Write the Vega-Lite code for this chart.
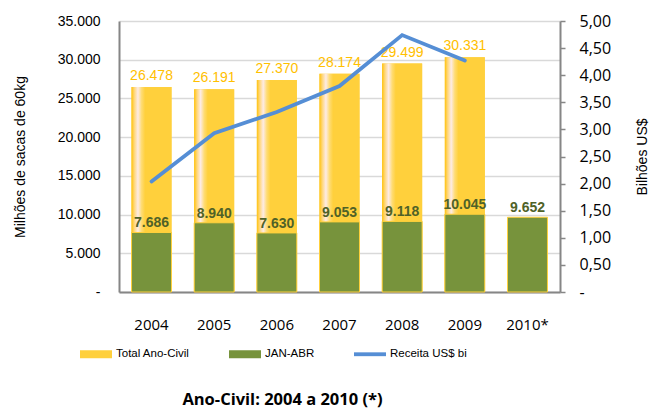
{
  "$schema": "https://vega.github.io/schema/vega-lite/v6.json",
  "width": 441,
  "height": 271,
  "autosize": "none",
  "padding": {"left": 119, "top": 21, "right": 97, "bottom": 124},
  "background": "white",
  "config": {
    "locale": {"number": {"decimal": ",", "thousands": ".", "grouping": [3], "currency": ["R$", ""]}},
    "view": {"stroke": null},
    "font": "Liberation Sans",
    "axisLeft": {
      "labelOverlap": false,
      "labelFont": "Liberation Sans",
      "labelFontSize": 14,
      "labelColor": "#000000",
      "labelPadding": 19,
      "ticks": false,
      "domainColor": "#868686",
      "domainWidth": 2,
      "grid": true,
      "gridColor": "#D9D9D9",
      "gridWidth": 1.5,
      "titleFont": "Liberation Sans",
      "titleFontSize": 14,
      "titleFontWeight": "normal",
      "titleColor": "#000000",
      "titlePadding": 30
    }
  },
  "title": {
    "text": "Ano-Civil: 2004 a 2010 (*)",
    "orient": "bottom",
    "anchor": "middle",
    "dx": -57,
    "font": "Open Sans",
    "fontSize": 16.5,
    "fontWeight": "bold",
    "color": "#000000",
    "offset": 32
  },
  "data": {
    "values": [
      {"ano": "2004", "total": 26478, "janabr": 7686, "receita": 2.04},
      {"ano": "2005", "total": 26191, "janabr": 8940, "receita": 2.93},
      {"ano": "2006", "total": 27370, "janabr": 7630, "receita": 3.32},
      {"ano": "2007", "total": 28174, "janabr": 9053, "receita": 3.8},
      {"ano": "2008", "total": 29499, "janabr": 9118, "receita": 4.74},
      {"ano": "2009", "total": 30331, "janabr": 10045, "receita": 4.27},
      {"ano": "2010*", "total": null, "janabr": 9652, "receita": null}
    ]
  },
  "encoding": {
    "x": {
      "field": "ano",
      "type": "ordinal",
      "sort": null,
      "scale": {"paddingInner": 0.362, "paddingOuter": 0.2},
      "axis": {
        "title": null,
        "labelAngle": 0,
        "labelFont": "Open Sans",
        "labelFontSize": 15,
        "labelColor": "#000000",
        "labelPadding": 25,
        "ticks": false,
        "domainColor": "#868686",
        "domainWidth": 2
      }
    }
  },
  "layer": [
    {
      "layer": [
        {
          "mark": {"type": "bar"},
          "encoding": {
            "y": {
              "field": "total",
              "type": "quantitative",
              "scale": {"domain": [0, 35000], "nice": false},
              "axis": {
                "title": "Milhões de sacas de 60kg",
                "values": [0, 5000, 10000, 15000, 20000, 25000, 30000, 35000],
                "format": ",d",
                "labelExpr": "datum.value === 0 ? '-' : datum.label"
              }
            },
            "color": {
              "datum": "Total Ano-Civil",
              "scale": {
                "domain": ["Total Ano-Civil", "JAN-ABR", "Receita US$ bi"],
                "range": ["#FFD03C", "#77933C", "#558ED5"]
              },
              "legend": {
                "orient": "none",
                "legendX": -39,
                "legendY": 317,
                "direction": "horizontal",
                "title": null,
                "symbolType": "M-1,-0.25H1V0.25H-1Z",
                "symbolSize": 1024,
                "symbolStrokeWidth": 0,
                "labelFont": "Liberation Sans",
                "labelFontSize": 11.5,
                "labelColor": "#000000",
                "labelOffset": 4,
                "columnPadding": 39,
                "labelLimit": 200,
                "encode": {
                  "symbols": {
                    "update": {
                      "shape": {"signal": "datum.value === 'Receita US$ bi' ? 'M-1,-0.12H1V0.12H-1Z' : 'M-1,-0.25H1V0.25H-1Z'"},
                      "fill": [
                        {"test": "datum.value === 'Total Ano-Civil'", "value": {"gradient": "linear", "x1": 0, "y1": 0, "x2": 1, "y2": 0, "stops": [{"offset": 0, "color": "#FFC20E"}, {"offset": 0.12, "color": "#FFD77A"}, {"offset": 0.25, "color": "#FDEBE6"}, {"offset": 0.38, "color": "#FFDC74"}, {"offset": 0.5, "color": "#FFD03C"}, {"offset": 1, "color": "#FFD03C"}]}},
                        {"test": "datum.value === 'JAN-ABR'", "value": "#77933C"},
                        {"value": "#558ED5"}
                      ],
                      "strokeWidth": {"value": 0},
                      "opacity": {"value": 1}
                    }
                  }
                }
              }
            }
          }
        },
        {
          "mark": {
            "type": "bar",
            "fill": {"gradient": "linear", "x1": 0, "y1": 0, "x2": 1, "y2": 0,
              "stops": [
                {"offset": 0, "color": "#FFC20E"},
                {"offset": 0.07, "color": "#FFD77A"},
                {"offset": 0.16, "color": "#FDEBE6"},
                {"offset": 0.25, "color": "#FFDC74"},
                {"offset": 0.34, "color": "#FFD03C"},
                {"offset": 1, "color": "#FFD03C"}
              ]}
          },
          "encoding": {
            "y": {"field": "total", "type": "quantitative", "axis": {"values": [0, 5000, 10000, 15000, 20000, 25000, 30000, 35000], "format": ",d", "labelExpr": "datum.value === 0 ? '-' : datum.label"}}
          }
        },
        {
          "mark": {"type": "bar", "stroke": "#FFD03C", "strokeWidth": 1},
          "encoding": {
            "y": {"field": "janabr", "type": "quantitative", "axis": {"values": [0, 5000, 10000, 15000, 20000, 25000, 30000, 35000], "format": ",d", "labelExpr": "datum.value === 0 ? '-' : datum.label"}},
            "color": {"datum": "JAN-ABR"}
          }
        },
        {
          "mark": {"type": "text", "baseline": "alphabetic", "dy": -7, "font": "Liberation Sans", "fontSize": 14, "color": "#FFC000"},
          "encoding": {
            "y": {"field": "total", "type": "quantitative", "axis": {"values": [0, 5000, 10000, 15000, 20000, 25000, 30000, 35000], "format": ",d", "labelExpr": "datum.value === 0 ? '-' : datum.label"}},
            "text": {"field": "total", "type": "quantitative", "format": ",d"}
          }
        },
        {
          "mark": {"type": "text", "baseline": "alphabetic", "dy": -5, "font": "Liberation Sans", "fontSize": 14, "fontWeight": "bold", "color": "#4F6228"},
          "encoding": {
            "y": {"field": "janabr", "type": "quantitative", "axis": {"values": [0, 5000, 10000, 15000, 20000, 25000, 30000, 35000], "format": ",d", "labelExpr": "datum.value === 0 ? '-' : datum.label"}},
            "text": {"field": "janabr", "type": "quantitative", "format": ",d"}
          }
        }
      ]
    },
    {
      "mark": {"type": "line", "strokeWidth": 3.8, "strokeCap": "round", "strokeJoin": "miter"},
      "encoding": {
        "y": {
          "field": "receita",
          "type": "quantitative",
          "scale": {"domain": [0, 5], "nice": false},
          "axis": {
            "orient": "right",
            "title": "Bilhões US$",
            "titleAngle": 270,
            "titleFont": "Liberation Sans",
            "titleFontSize": 14,
            "titleFontWeight": "normal",
            "titleColor": "#000000",
            "titlePadding": 39,
            "values": [0, 0.5, 1, 1.5, 2, 2.5, 3, 3.5, 4, 4.5, 5],
            "format": ".2f",
            "labelExpr": "datum.value === 0 ? '-' : datum.label",
            "labelOverlap": false,
            "labelFont": "Open Sans",
            "labelFontSize": 16,
            "labelColor": "#000000",
            "labelPadding": 14,
            "tickSize": 5,
            "tickColor": "#868686",
            "tickWidth": 1.5,
            "domainColor": "#868686",
            "domainWidth": 2,
            "grid": false
          }
        },
        "color": {"datum": "Receita US$ bi"}
      }
    }
  ],
  "resolve": {"scale": {"y": "independent"}}
}
